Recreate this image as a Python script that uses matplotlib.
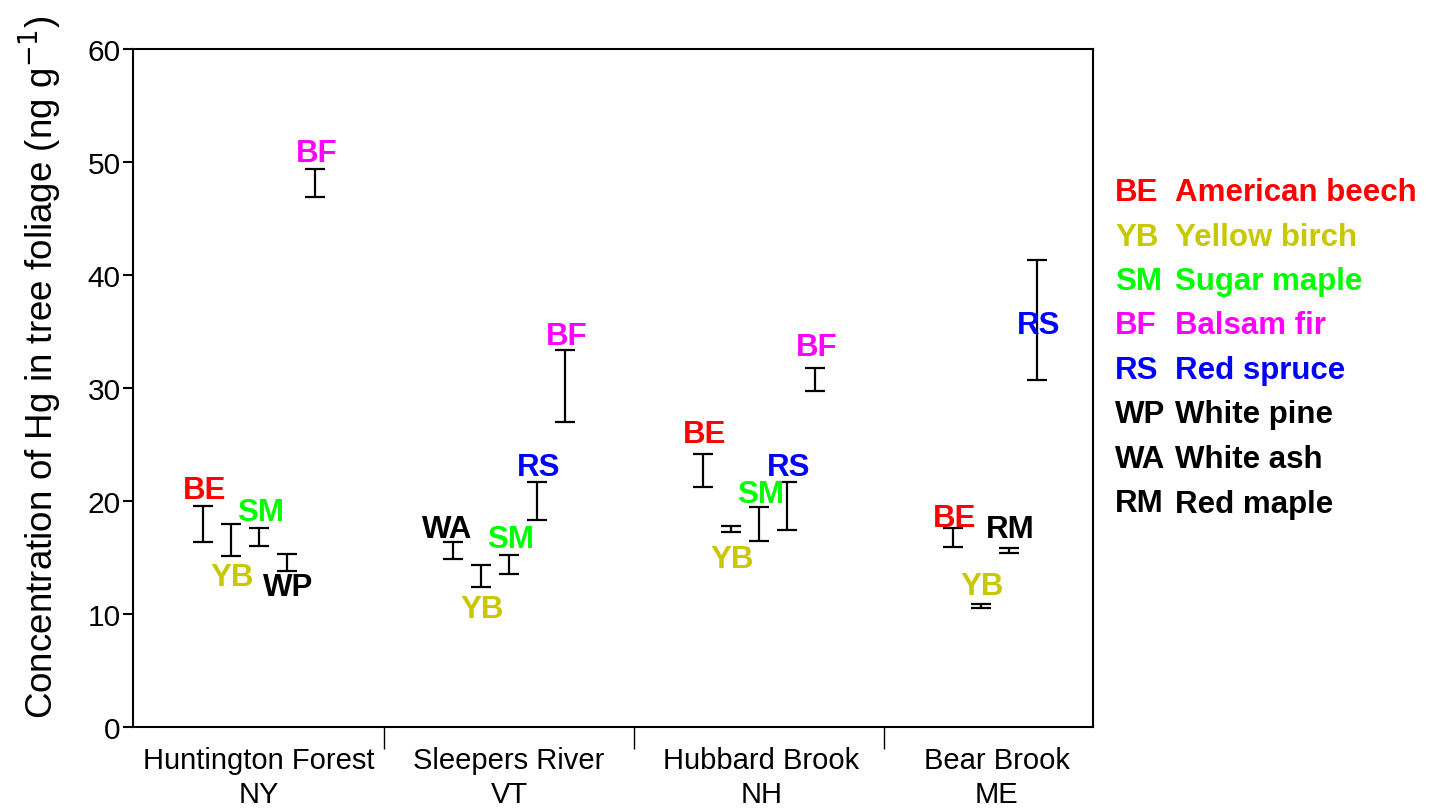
import matplotlib
matplotlib.use('Agg')
import matplotlib.pyplot as plt

plt.rcParams['font.family'] = ['Liberation Sans', 'DejaVu Sans']

# sites on the x axis
sites = ['Huntington Forest\nNY', 'Sleepers River\nVT', 'Hubbard Brook\nNH', 'Bear Brook\nME']

# species per site (slot order inside each group)
hf_species = ['BE', 'YB', 'SM', 'WP', 'BF']
sr_species = ['WA', 'YB', 'SM', 'RS', 'BF']
hb_species = ['BE', 'YB', 'SM', 'RS', 'BF']
bb_species = ['BE', 'YB', 'RM', 'RS']

# upper / lower ends of the bars (ng g-1)
hf_high = [19.6, 18.0, 17.6, 15.3, 49.4]
hf_low = [16.4, 15.1, 16.0, 13.8, 46.9]
sr_high = [16.4, 14.3, 15.2, 21.7, 33.4]
sr_low = [14.9, 12.4, 13.5, 18.3, 27.0]
hb_high = [24.2, 17.8, 19.5, 21.7, 31.8]
hb_low = [21.2, 17.3, 16.5, 17.4, 29.7]
bb_high = [17.6, 10.9, 15.8, 41.3]
bb_low = [15.9, 10.5, 15.4, 30.7]

# where the species codes sit (y, ng g-1)
hf_label_y = [21.0, 13.3, 19.0, 12.4, 50.8]
sr_label_y = [17.5, 10.4, 16.6, 23.0, 34.6]
hb_label_y = [25.9, 14.9, 20.6, 23.0, 33.6]
bb_label_y = [18.5, 12.5, 17.5, 35.6]

legend_codes = ['BE', 'YB', 'SM', 'BF', 'RS', 'WP', 'WA', 'RM']
legend_names = ['American beech', 'Yellow birch', 'Sugar maple', 'Balsam fir',
                'Red spruce', 'White pine', 'White ash', 'Red maple']

colors = {'BE': '#ff0000', 'YB': '#c8c800', 'SM': '#00ff00', 'BF': '#ff00ff',
          'RS': '#0000ff', 'WP': 'black', 'WA': 'black', 'RM': 'black'}

fig = plt.figure(figsize=(14.38, 8.12), dpi=100)
ax = fig.add_axes([133 / 1438, 84 / 812, 960 / 1438, 678 / 812])

groups = [(hf_species, hf_high, hf_low, hf_label_y),
          (sr_species, sr_high, sr_low, sr_label_y),
          (hb_species, hb_high, hb_low, hb_label_y),
          (bb_species, bb_high, bb_low, bb_label_y)]

slot = 0.112
for g, (species, high, low, label_y) in enumerate(groups):
    for k in range(len(species)):
        x = g + 1 + (k - 2) * slot
        mid = (high[k] + low[k]) / 2
        err = (high[k] - low[k]) / 2
        ax.errorbar(x, mid, yerr=err, fmt='none', ecolor='black', elinewidth=1.6,
                    capsize=7, capthick=1.6)
        dx = -0.024 if species[k] == 'WA' else 0.006
        ax.text(x + dx, label_y[k], species[k], color=colors[species[k]], fontsize=22.5,
                fontweight='bold', ha='center', va='center')

ax.set_xlim(0.496, 4.336)
ax.set_ylim(0, 60)
ax.set_yticks(range(0, 61, 10))
ax.set_xticks([1.0, 2.0, 3.01, 3.95])
ax.set_xticklabels(sites, fontsize=21, linespacing=1.25)
ax.tick_params(axis='x', length=0, pad=14)
ax.set_xticks([1.5, 2.5, 3.5], minor=True)
ax.tick_params(axis='x', which='minor', length=16, width=1)
ax.tick_params(axis='y', length=7, width=1.5, labelsize=21.5, direction='out', pad=2)
for s in ax.spines.values():
    s.set_linewidth(1.5)
ax.set_ylabel('Concentration of Hg in tree foliage (ng g$^{-1}$)', fontsize=26.5)
ax.yaxis.set_label_coords(-0.0715, 0.532)

# legend drawn as text on the right
for i, (code, name) in enumerate(zip(legend_codes, legend_names)):
    y = 1 - (193 + i * 44.5) / 812
    fig.text(1115 / 1438, y, code, color=colors[code], fontsize=22.5, fontweight='bold',
             va='center', ha='left')
    fig.text(1175 / 1438, y, name, color=colors[code], fontsize=22.5, fontweight='bold',
             va='center', ha='left')

fig.savefig('out.png', dpi=100)
